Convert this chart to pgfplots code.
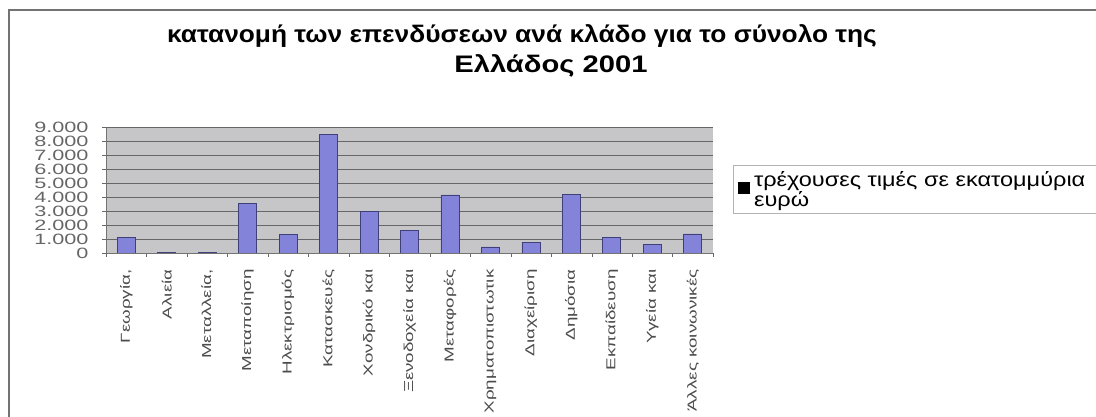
\documentclass[border=0pt]{standalone}
\usepackage{fontspec}
\setmainfont{Liberation Sans}
\newfontfamily\widefont[FakeStretch=1.45]{Liberation Sans}
\newfontfamily\titlefont[FakeStretch=1.1]{Liberation Sans}
\newfontfamily\titlefontb[FakeStretch=1.22]{Liberation Sans}
\newfontfamily\legfont[FakeStretch=1.18]{Liberation Sans}
\usepackage{pgfplots}
\pgfplotsset{compat=1.18}
\definecolor{barfill}{HTML}{8383DA}
\definecolor{baredge}{HTML}{3F3F7A}
\definecolor{plotbg}{HTML}{C6C6C8}
\begin{document}
\begin{tikzpicture}
\useasboundingbox (0bp,0bp) rectangle (1096bp,417bp);
\draw[black!55, line width=1.5bp] (9bp,0bp) -- (9bp,407bp) -- (1096bp,407bp);
\node[font=\titlefont\bfseries\fontsize{24}{30}\selectfont, anchor=base] at (522bp,374bp)
  {κατανομή των επενδύσεων ανά κλάδο για το σύνολο της};
\node[font=\titlefontb\bfseries\fontsize{24}{30}\selectfont, anchor=base] at (551bp,344bp)
  {Ελλάδος 2001};
\begin{axis}[
  at={(106bp,164bp)}, anchor=south west, scale only axis,
  width=607bp, height=126bp,
  xmin=-0.5, xmax=14.5, ymin=0, ymax=9000,
  ytick={0,1000,...,9000},
  xtick={0,...,14},
  xticklabels={{Γεωργία,},Αλιεία,{Μεταλλεία,},Μεταποίηση,Ηλεκτρισμός,Κατασκευές,Χονδρικό και,Ξενοδοχεία και,Μεταφορές,Χρηματοπιστωτικ,Διαχείριση,Δημόσια,Εκπαίδευση,Υγεία και,Άλλες κοινωνικές},
  minor xtick={-0.5,0.5,...,14.5},
  major x tick style={draw=none},
  minor tick length=4bp,
  major tick length=4bp,
  tick align=outside,
  tick style={black!60},
  axis line style={black!55},
  axis x line*=bottom, axis y line*=left,
  ymajorgrids, major grid style={black!60, line width=0.7bp},
  axis background/.style={fill=plotbg},
  /pgf/number format/.cd, 1000 sep={.}, assume math mode=true,
  /pgfplots/.cd,
  yticklabel style={font=\widefont\fontsize{15}{15}\selectfont, text=black!60, xshift=-10bp},
  xticklabel style={font=\widefont\fontsize{13}{13}\selectfont, text=black!70, yshift=-9bp, rotate=90, anchor=east},
  legend style={at={(1.033,0.698)}, anchor=north west, draw=black!30, fill=white,
    font=\legfont\fontsize{20}{20}\selectfont, cells={align=left}, inner xsep=5bp, inner ysep=4bp},
  legend image code/.code={\fill[black] (0bp,-4bp) rectangle (11bp,7bp);},
]
\addplot[ybar, bar width=18bp, fill=barfill, draw=baredge, line width=0.8bp]
  coordinates {(0,1100) (1,30) (2,60) (3,3570) (4,1350) (5,8450) (6,3000) (7,1600) (8,4150) (9,430) (10,760) (11,4170) (12,1120) (13,620) (14,1360)};
\addlegendentry{\hspace*{2bp}τρέχουσες τιμές σε εκατομμύρια\hspace*{20bp}\\\hspace*{2bp}ευρώ}
\end{axis}
\end{tikzpicture}
\end{document}
